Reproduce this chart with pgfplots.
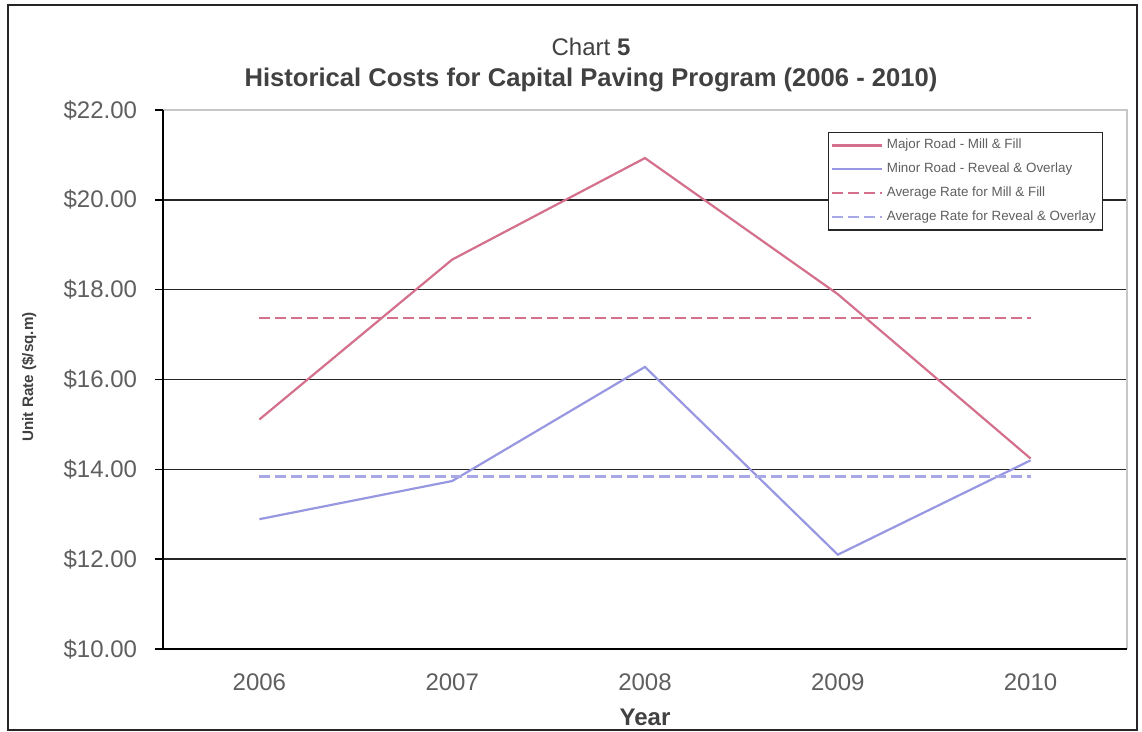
\documentclass[border=0pt]{standalone}
\usepackage{pgfplots}
\pgfplotsset{compat=1.18}
\usepackage{fontspec}
\setmainfont{Liberation Sans}
\definecolor{majc}{RGB}{212,112,140}
\definecolor{minc}{RGB}{152,152,226}
\definecolor{txt}{RGB}{95,95,95}
\definecolor{ttl}{RGB}{65,65,65}
\begin{document}
\begin{tikzpicture}
\useasboundingbox (-81.5pt,-41.5pt) rectangle (489.5pt,324.5pt);
\fill[white] (-81.5pt,-41.5pt) rectangle (489.5pt,324.5pt);
\draw[line width=0.9pt, black!85] (-77.5pt,-40.5pt) rectangle (487pt,322pt);
\node[font=\fontsize{12}{14}\selectfont, text=ttl] at (214pt,301pt) {Chart \textbf{5}};
\node[font=\fontsize{12.8}{15}\selectfont\bfseries, text=ttl] at (214pt,284.5pt) {Historical Costs for Capital Paving Program (2006 - 2010)};
\node[font=\fontsize{7.6}{9}\selectfont\bfseries, text=ttl, rotate=90] at (-67pt,136pt) {Unit Rate (\$/sq.m)};
\begin{axis}[
  scale only axis, width=482pt, height=269.5pt,
  at={(0,0)}, anchor=south west,
  xmin=2005.5, xmax=2010.5, ymin=10, ymax=22,
  xtick={2006,2007,2008,2009,2010},
  xticklabels={2006,2007,2008,2009,2010},
  ytick={10,12,14,16,18,20,22},
  yticklabels={\$10.00,\$12.00,\$14.00,\$16.00,\$18.00,\$20.00,\$22.00},
  ymajorgrids, major grid style={black!85, line width=0.8pt},
  axis line style={draw=none},
  tick align=outside, xtick style={draw=none}, ytick pos=left,
  ytick style={black, line width=0.8pt}, major tick length=4pt,
  tick label style={font=\fontsize{12}{14}\selectfont, text=txt},
  xticklabel style={yshift=-4.7pt},
  yticklabel style={xshift=-5.5pt},
  xlabel={Year}, xlabel style={font=\fontsize{12}{14}\selectfont\bfseries, text=ttl,
     at={(axis description cs:0.5,0)}, anchor=center, yshift=-34pt},
  legend style={at={(0.9751,0.9592)}, anchor=north east, draw=black!85, line width=0.7pt,
     font=\fontsize{6.7}{8}\selectfont, text=txt, row sep=1.6pt, inner sep=1.2pt,
     cells={anchor=west}},
  legend image post style={xscale=1.45},
  clip=false,
]
\addplot[majc, line width=1.1pt] coordinates {(2006,15.11) (2007,18.67) (2008,20.93) (2009,17.9) (2010,14.24)};
\addlegendentry{Major Road - Mill \& Fill}
\addplot[minc, line width=1.1pt] coordinates {(2006,12.89) (2007,13.74) (2008,16.28) (2009,12.1) (2010,14.2)};
\addlegendentry{Minor Road - Reveal \& Overlay}
\addplot[majc, line width=1.1pt, dash pattern=on 5.5pt off 2.5pt] coordinates {(2006,17.37) (2010,17.37)};
\addlegendentry{Average Rate for Mill \& Fill}
\addplot[minc!85, line width=1.1pt, dash pattern=on 5.5pt off 2.5pt] coordinates {(2006,13.84) (2010,13.84)};
\addlegendentry{Average Rate for Reveal \& Overlay}
\draw[black!22, line width=0.6pt] (rel axis cs:0,1) -- (rel axis cs:1,1) -- (rel axis cs:1,0);
\draw[black, line width=0.9pt] (rel axis cs:0,1) -- (rel axis cs:0,0) -- (rel axis cs:1,0);
\end{axis}
\end{tikzpicture}
\end{document}
